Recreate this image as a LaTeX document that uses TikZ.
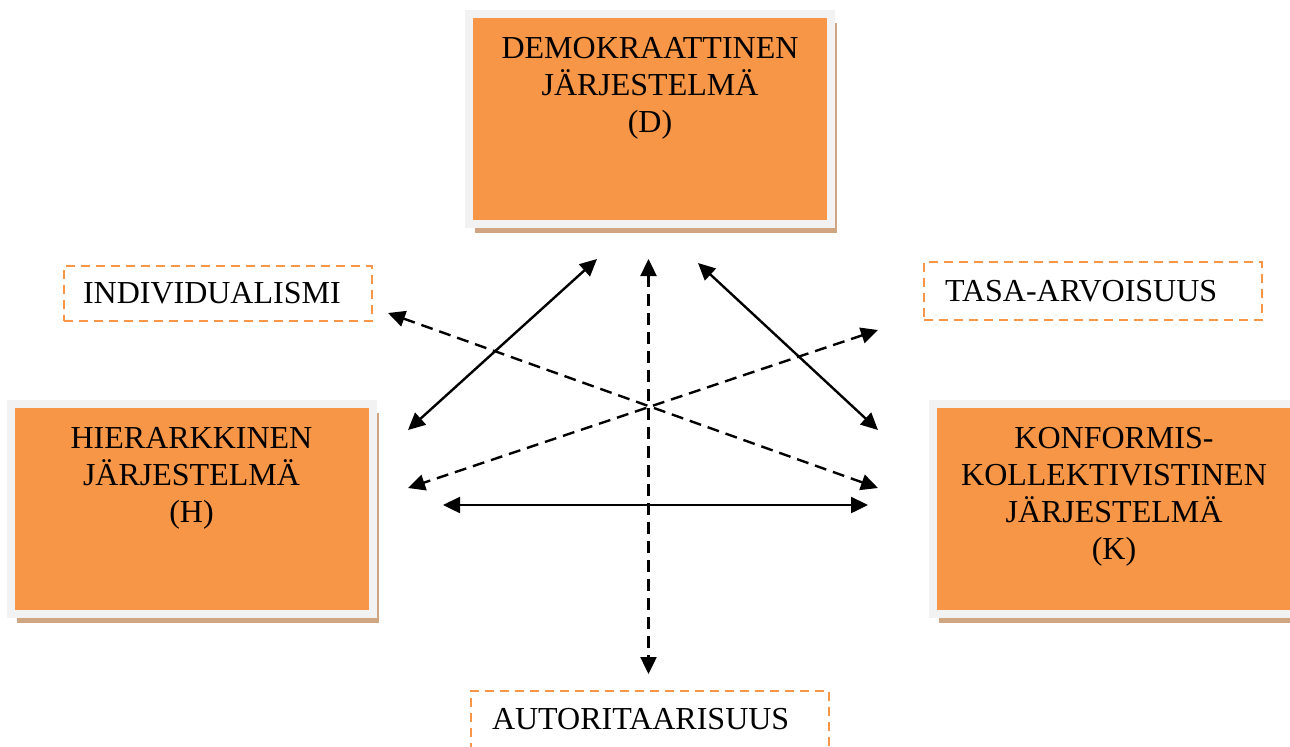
\documentclass[tikz,border=0pt]{standalone}
\usepackage{fontspec}
\setmainfont{Liberation Serif}
\usetikzlibrary{arrows.meta,positioning,shadows}
\definecolor{boxorange}{HTML}{F79646}
\definecolor{framegray}{HTML}{F2F2F2}
\definecolor{shadowtan}{RGB}{208,166,130}

\begin{document}
\begin{tikzpicture}[x=0.5pt,y=-0.5pt,
  sysbox/.style={fill=boxorange, draw=framegray, line width=4pt, outer sep=0pt,
    minimum width=181pt, minimum height=105pt,
    drop shadow={shadow xshift=3pt, shadow yshift=-4.5pt, fill=shadowtan, opacity=1}},
  systext/.style={inner sep=0pt, align=center, font=\fontsize{16}{18.5}\selectfont},
  valbox/.style={draw=boxorange, line width=1.2pt, dash pattern=on 4.5pt off 3pt, outer sep=0pt,
    align=left, inner xsep=10.5pt, inner ysep=0pt, anchor=west, font=\fontsize{16}{18.5}\selectfont},
  arr/.style={{Triangle[length=8.5pt,width=8pt]}-{Triangle[length=8.5pt,width=8pt]}, line width=1.2pt},
  darr/.style={arr, dash pattern=on 6pt off 3.5pt}]
\useasboundingbox (0,0) rectangle (1290,746);
% systems
\node[sysbox] (D) at (650,119) {};
\node[systext, below=11.5pt of D.north] (Dtext) {DEMOKRAATTINEN\\JÄRJESTELMÄ\\(D)};
\node[sysbox] (H) at (191.5,509) {};
\node[systext, below=11.5pt of H.north] (Htext) {HIERARKKINEN\\JÄRJESTELMÄ\\(H)};
\node[sysbox] (K) at (1114,509) {};
\node[systext, below=11.5pt of K.north] (Ktext) {KONFORMIS-\\KOLLEKTIVISTINEN\\JÄRJESTELMÄ\\(K)};
% values
\node[valbox, text width=135pt, inner xsep=9.5pt, minimum height=27.5pt] (ind) at (64,293.5) {INDIVIDUALISMI};
\node[valbox, text width=148pt, minimum height=29pt] (tasa) at (924,291) {TASA-ARVOISUUS};
\node[valbox, text width=158pt, minimum height=28.5pt] (aut) at (471,719.5) {AUTORITAARISUUS};
% arrow ends
\coordinate (hD) at (408,430);
\coordinate (dH) at (597,259);
\coordinate (dK) at (698,263);
\coordinate (kD) at (878,430);
\coordinate (dA) at (648.5,259);
\coordinate (aD) at (648.5,674);
\coordinate (iK) at (388,313);
\coordinate (kI) at (878,488);
\coordinate (tH) at (878,330);
\coordinate (hT) at (408,488);
\coordinate (hK) at (443,505);
\coordinate (kH) at (868,505);
\draw[arr] (hD) -- (dH);
\draw[arr] (dK) -- (kD);
\draw[arr] (hK) -- (kH);
\draw[darr] (dA) -- (aD);
\draw[darr] (iK) -- (kI);
\draw[darr] (tH) -- (hT);
\end{tikzpicture}
\end{document}
